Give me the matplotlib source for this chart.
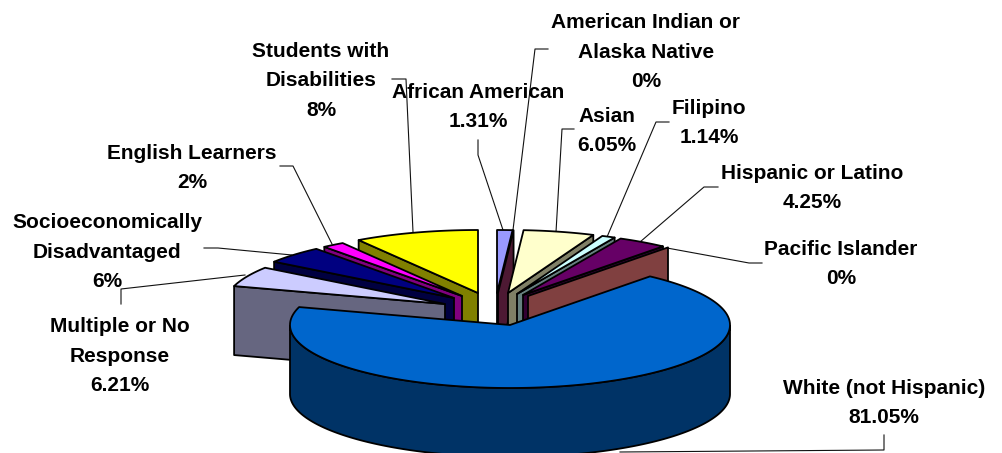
import matplotlib
matplotlib.use("Agg")
import matplotlib.pyplot as plt
from matplotlib.patches import Polygon
import numpy as np

plt.rcParams['font.family'] = ['Liberation Sans', 'DejaVu Sans']

# printed labels, going clockwise from 12 o'clock
categories = ['African American', 'American Indian or\nAlaska Native', 'Asian', 'Filipino',
              'Hispanic or Latino', 'Pacific Islander', 'White (not Hispanic)',
              'Multiple or No\nResponse', 'Socioeconomically\nDisadvantaged',
              'English Learners', 'Students with\nDisabilities']
printed = ['1.31%', '0%', '6.05%', '1.14%', '4.25%', '0%', '81.05%', '6.21%', '6%', '2%', '8%']

# slice sizes as drawn - the last few were read off the slices, they don't follow the rounded labels
values = [1.31, 0, 6.05, 1.14, 4.25, 0, 79.7, 6.0, 5.2, 1.9, 10.6]

top_colors = ['#9999FF', '#993366', '#FFFFCC', '#CCFFFF', '#660066', '#FF8080',
              '#0066CC', '#CCCCFF', '#000080', '#FF00FF', '#FFFF00']
wall_colors = ['#4C4C80', '#4D1933', '#808066', '#668080', '#330033', '#804040',
               '#003366', '#666680', '#000040', '#800080', '#808000']

# pie geometry in pixels
cx, cy = 510, 325
rx, ry = 220, 63
depth = 69
edge_lw = 1.3

# how far each slice is pulled out of the centre
explode = [(-13, -32), (-12, -32), (-2, -32), (7, -31), (13, -30), (18, -29),
           (0, 0), (-65, -21), (-56, -27), (-48, -29), (-32, -32)]

label_pos = [(478, 107), (646, 52), (607, 131), (709, 123), (812, 188), (841, 264),
             (884, 403), (120, 356), (107, 252), (192, 168), (321, 81)]

leaders = [[(478, 140), (478, 155), (503, 230)],
           [(548, 49), (535, 49), (513, 230)],
           [(574, 129), (562, 129), (556, 232)],
           [(669, 122), (656, 122), (607, 237)],
           [(718, 187), (704, 187), (640, 242)],
           [(762, 263), (749, 263), (667, 248)],
           [(884, 435), (884, 450), (620, 452)],
           [(121, 304), (121, 289), (245, 275)],
           [(204, 248), (218, 248), (292, 255)],
           [(280, 166), (293, 166), (332, 244)],
           [(392, 79), (406, 79), (413, 232)]]


def arc_pts(a0, a1, ox, oy):
    t = np.radians(np.linspace(a0, a1, max(2, int(abs(a1 - a0) * 2))))
    return np.column_stack([ox + rx * np.sin(t), oy - ry * np.cos(t)])


def draw_radial_wall(ax, angle, ox, oy, color, z):
    corner = arc_pts(angle, angle, ox, oy)[0]
    pts = [(ox, oy), corner, (corner[0], corner[1] + depth), (ox, oy + depth)]
    ax.add_patch(Polygon(pts, closed=True, fc=color, ec='black', lw=edge_lw, joinstyle='round', zorder=z))


def draw_top(ax, a0, a1, ox, oy, color, z):
    pts = np.vstack([[(ox, oy)], arc_pts(a0, a1, ox, oy)])
    ax.add_patch(Polygon(pts, closed=True, fc=color, ec='black', lw=edge_lw, joinstyle='round', zorder=z))


fig = plt.figure(figsize=(10.03, 4.53), dpi=100)
ax = fig.add_axes([0, 0, 1, 1])
ax.set_xlim(0, 1003)
ax.set_ylim(453, 0)
ax.axis('off')

for pts in leaders:
    xs, ys = zip(*pts)
    ax.plot(xs, ys, color='#111111', lw=0.8, zorder=1)

shares = np.array(values) / sum(values) * 360
ends = np.cumsum(shares)
starts = ends - shares
white = categories.index('White (not Hispanic)')

# right hand slices stack left to right, left hand ones from the top down, the big one goes last
z = 2
for i in range(white):
    ox, oy = cx + explode[i][0], cy + explode[i][1]
    draw_radial_wall(ax, ends[i], ox, oy, wall_colors[i], z)
    if values[i] > 0:
        draw_top(ax, starts[i], ends[i], ox, oy, top_colors[i], z + 1)
    z += 2

for i in range(len(values) - 1, white, -1):
    ox, oy = cx + explode[i][0], cy + explode[i][1]
    draw_radial_wall(ax, starts[i], ox, oy, wall_colors[i], z)
    draw_top(ax, starts[i], ends[i], ox, oy, top_colors[i], z + 1)
    z += 2

# outer wall of the white slice, only the front half shows
front = arc_pts(90, 270, cx, cy)
wall = np.vstack([front, front[::-1] + [0, depth]])
ax.add_patch(Polygon(wall, closed=True, fc=wall_colors[white], ec='black', lw=edge_lw, zorder=z))
draw_top(ax, starts[white], ends[white], cx, cy, top_colors[white], z + 1)

for name, pct, (x, y) in zip(categories, printed, label_pos):
    ax.text(x, y, name + '\n' + pct, ha='center', va='center', fontsize=15, fontweight='bold',
            linespacing=1.72, color='black', zorder=z + 2)

fig.savefig('out.png', dpi=100)
